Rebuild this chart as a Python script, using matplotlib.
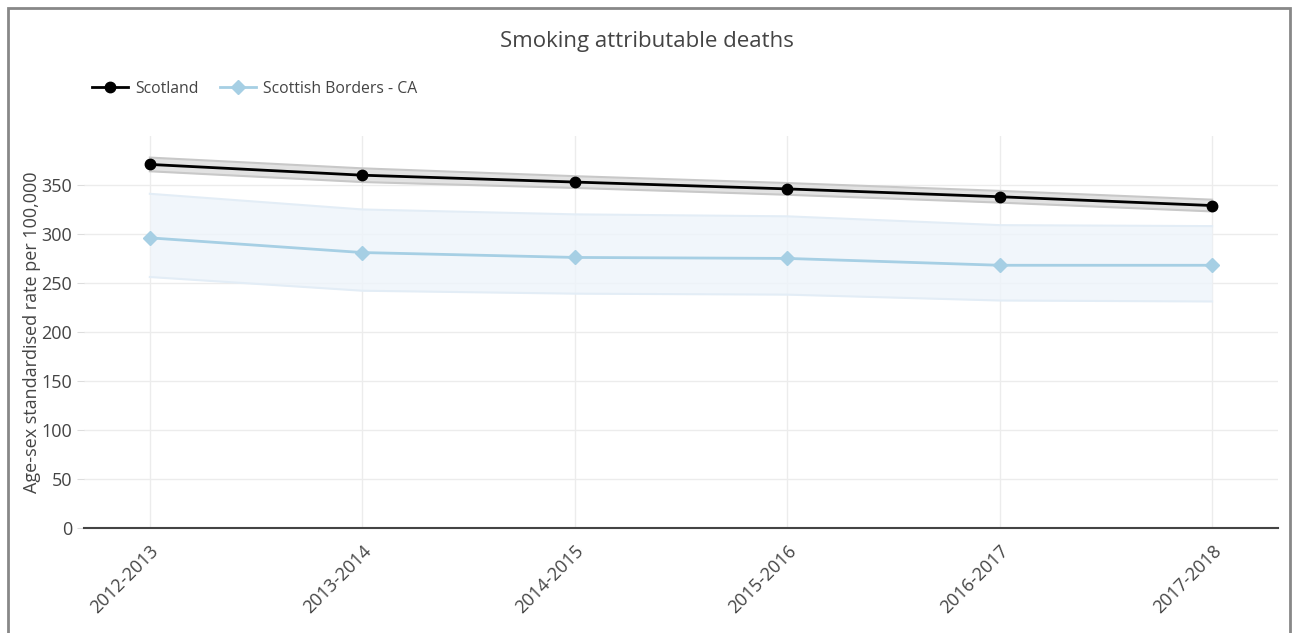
import matplotlib.pyplot as plt
from matplotlib.patches import Rectangle

plt.rcParams['font.family'] = ['Open Sans', 'DejaVu Sans']

periods = ['2012-2013', '2013-2014', '2014-2015', '2015-2016', '2016-2017', '2017-2018']

scotland = [371, 360, 353, 346, 338, 329]
scotland_upper = [378, 367, 359, 352, 344, 335]
scotland_lower = [364, 353, 347, 340, 332, 323]

borders = [296, 281, 276, 275, 268, 268]
borders_upper = [341, 325, 320, 318, 309, 308]
borders_lower = [256, 242, 239, 238, 232, 231]

fig = plt.figure(figsize=(12.94, 6.33), dpi=100)
ax = fig.add_axes([0.0649, 0.1664, 0.9227, 0.6187])

x = range(len(periods))

# Confidence bands
ax.fill_between(x, borders_lower, borders_upper, color='#eef4fa', alpha=0.8, lw=0)
ax.plot(x, borders_upper, color='#e3edf6', lw=1.5)
ax.plot(x, borders_lower, color='#e3edf6', lw=1.5)
ax.fill_between(x, scotland_lower, scotland_upper, color='#e2e2e2', lw=0)
ax.plot(x, scotland_upper, color='#c8c8c8', lw=1.5)
ax.plot(x, scotland_lower, color='#c8c8c8', lw=1.5)

# Lines
ax.plot(x, scotland, color='black', lw=2, marker='o', ms=7.5, label='Scotland')
ax.plot(x, borders, color='#a6cfe4', lw=2, marker='D', ms=7, label='Scottish Borders - CA')

ax.set_xlim(-0.31, 5.31)
ax.set_ylim(0, 400)
ax.set_yticks(range(0, 351, 50))
ax.set_xticks(list(x))
ax.set_xticklabels(periods, rotation=45, ha='right', rotation_mode='anchor', fontsize=13, color='#444')
ax.tick_params(axis='y', labelsize=13, colors='#444', length=5, color='#dddddd')
ax.tick_params(axis='x', length=0, pad=10)

ax.grid(True, color='#ececec', lw=1)
ax.set_axisbelow(True)
for s in ['top', 'right', 'left']:
    ax.spines[s].set_visible(False)
ax.spines['bottom'].set_color('#444')
ax.spines['bottom'].set_linewidth(1.5)

ax.set_ylabel('Age-sex standardised rate per 100,000', fontsize=13, color='#444', labelpad=0)

fig.text(0.5, 0.935, 'Smoking attributable deaths', ha='center', va='center', fontsize=16, color='#444')
fig.legend(loc='center left', bbox_to_anchor=(0.060, 0.860), ncol=2, frameon=False,
           fontsize=11.3, handlelength=2.3, handletextpad=0.45, columnspacing=1.4,
           labelcolor='#444')

# Outer frame
fig.patches.append(Rectangle((8 / 1294, -0.02), 1282 / 1294, 1 - 8 / 633 + 0.02,
                             transform=fig.transFigure, fill=False, ec='#888888', lw=2))

fig.savefig('out.png', dpi=100)
